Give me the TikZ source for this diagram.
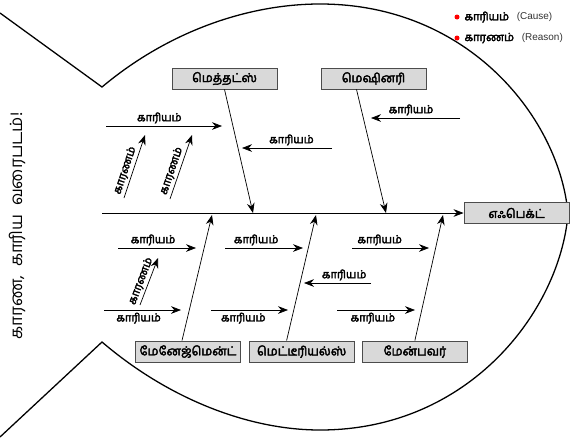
\documentclass[tikz,border=0pt]{standalone}
\usepackage{fontspec}
\setmainfont{Liberation Sans}
\newfontfamily\tamil[Script=Tamil]{Hind Madurai}
\newfontfamily\tamilb[Script=Tamil,FakeBold=3]{Hind Madurai}
\usetikzlibrary{arrows.meta,positioning,calc}
\tikzset{
  cat/.style  ={draw=black!70,fill=black!15,line width=0.8pt,
                minimum width=3.15cm,minimum height=0.63cm,inner sep=0pt,
                font=\tamilb\fontsize{10.5}{11}\selectfont},
  lbl/.style  ={font=\tamilb\fontsize{9.5}{10}\selectfont,inner sep=2pt},
  ar/.style   ={-{Stealth[length=3mm,width=2.3mm]},line width=0.6pt},
  bone/.style ={ar,line width=0.6pt},
  fish/.style ={line width=1.1pt},
  dot/.style  ={circle,fill=red,inner sep=0pt,minimum size=1.5mm},
  eng/.style  ={font=\fontsize{8.5}{9}\selectfont,text=black!80,inner sep=0pt},
}

\begin{document}
\begin{tikzpicture}[x=0.03cm,y=-0.03cm]
\useasboundingbox (0,0) rectangle (570,443);
% outline of the fish
\draw[fish] (0,13) -- (102,87) .. controls (170,30) and (250,4) .. (320,4)
  .. controls (470,4) and (560,120) .. (568,214)
  .. controls (560,310) and (470,430) .. (320,430)
  .. controls (250,430) and (170,400) .. (102,342) -- (0,437);

% category boxes
\node[cat] (MET) at (224.5,78.5) {மெத்தட்ஸ்};
\node[cat] (MAC) at (373.5,78.5) {மெஷினரி};
\node[cat] (EFF) at (516.5,213) {எஃபெக்ட்};
\node[cat] (MGT) at (188,351.5) {மேனேஜ்மென்ட்};
\node[cat,right=0.23cm of MGT] (MAT) {மெட்டீரியல்ஸ்};
\node[cat,right=0.22cm of MAT] (MAN) {மேன்பவர்};

% spine and bones
\coordinate (S0) at (102,213);
\coordinate (S1) at (253,213); \coordinate (S2) at (386,213);
\coordinate (S3) at (212,215); \coordinate (S4) at (316,215);
\coordinate (S5) at (443,215);
\draw[ar] (S0) -- (EFF.west);
\draw[bone] (MET.south) -- (S1);
\draw[bone] ($(MAC.south)+(-17,0)$) -- (S2);
\draw[bone] ($(MGT.north)+(-6,0)$) -- (S3);
\draw[bone] ($(MAT.north)+(-15,0)$) -- (S4);
\draw[bone] (MAN.north) -- (S5);

% causes (top)
\coordinate (c1a) at (106,126); \coordinate (c1b) at (222,126);
\coordinate (c2a) at (332,148); \coordinate (c2b) at (242,148);
\coordinate (c3a) at (460,118); \coordinate (c3b) at (371,118);
\draw[ar] (c1a) -- node[lbl,above,pos=0.46] {காரியம்} (c1b);
\draw[ar] (c2a) -- node[lbl,above,pos=0.45] {காரியம்} (c2b);
\draw[ar] (c3a) -- node[lbl,above,pos=0.55] {காரியம்} (c3b);

% reasons
\coordinate (r1a) at (124,198); \coordinate (r1b) at (145,135);
\coordinate (r2a) at (170,199); \coordinate (r2b) at (192,135);
\coordinate (r3a) at (140,305); \coordinate (r3b) at (158,258);
\draw[ar] (r1a) -- node[lbl,sloped,above,pos=0.4] {காரணம்} (r1b);
\draw[ar] (r2a) -- node[lbl,sloped,above,pos=0.4] {காரணம்} (r2b);
\draw[ar] (r3a) -- node[lbl,sloped,above,pos=0.45] {காரணம்} (r3b);

% causes (bottom)
\coordinate (c4a) at (118,248); \coordinate (c4b) at (196,248);
\coordinate (c5a) at (104,310); \coordinate (c5b) at (181,310);
\coordinate (c6a) at (225,248); \coordinate (c6b) at (303,248);
\coordinate (c7a) at (211,310); \coordinate (c7b) at (288,310);
\coordinate (c8a) at (352,248); \coordinate (c8b) at (429,248);
\coordinate (c9a) at (371,283); \coordinate (c9b) at (304,283);
\coordinate (c10a) at (337,310); \coordinate (c10b) at (415,310);
\draw[ar] (c4a) -- node[lbl,above,pos=0.45] {காரியம்} (c4b);
\draw[ar] (c5a) -- node[lbl,below,pos=0.45] {காரியம்} (c5b);
\draw[ar] (c6a) -- node[lbl,above,pos=0.4] {காரியம்} (c6b);
\draw[ar] (c7a) -- node[lbl,below,pos=0.42] {காரியம்} (c7b);
\draw[ar] (c8a) -- node[lbl,above,pos=0.36] {காரியம்} (c8b);
\draw[ar] (c9a) -- node[lbl,above,pos=0.4] {காரியம்} (c9b);
\draw[ar] (c10a) -- node[lbl,below,pos=0.46] {காரியம்} (c10b);

% legend
\node[dot] (D1) at (457,17) {};
\node[dot] (D2) at (457,38) {};
\node[lbl,anchor=west] (L1) at (462,17) {காரியம்};
\node[lbl,anchor=west] (L2) at (462,38) {காரணம்};
\node[eng,right=1.5mm of L1] (L1e) {(Cause)};
\node[eng,right=1.5mm of L2] (L2e) {(Reason)};

% title
\node[rotate=90,font=\tamil\fontsize{14.5}{15}\selectfont] (TTL) at (17,226)
  {காரண,\ \ காரிய\ \ வரைபடம்!};
\end{tikzpicture}
\end{document}
